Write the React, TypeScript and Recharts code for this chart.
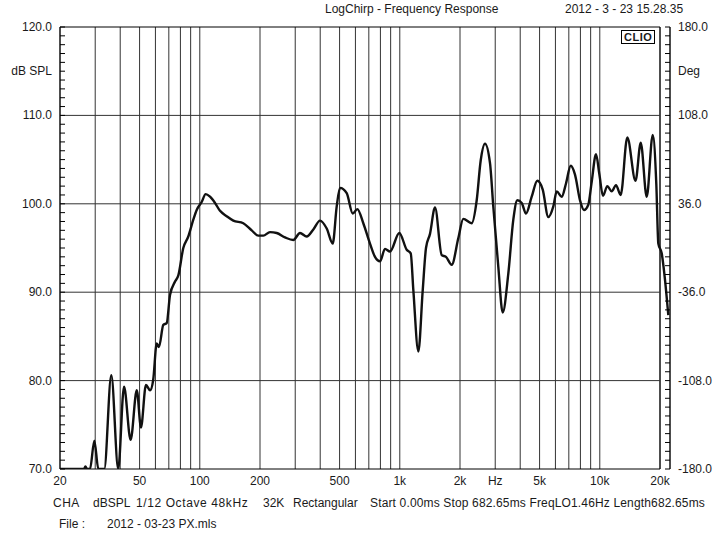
import React from "react";
import {
  LineChart,
  Line,
  XAxis,
  YAxis,
  CartesianGrid,
  ReferenceLine,
  ReferenceArea,
} from "recharts";

// LogChirp frequency response, CLIO style

const FREQS = [
  20, 25.2, 26.4, 26.8, 27.3, 28.25, 29.7, 31.1, 33.3, 36.1, 39.1, 41.8, 45.1,
  48.4, 50.8, 53.8, 56.4, 58.5, 60.9, 62.5, 65.7, 68.3, 71.0, 75.2, 78.1, 82.7,
  87.6, 92.8, 96.5, 102.2, 107.0, 112.5, 119.1, 126.2, 136.3, 147.1, 165.0,
  181.8, 196.1, 207.7, 224.4, 242.4, 266.7, 293.5, 317.0, 342.5, 369.6, 399.1,
  431.1, 461.9, 483.7, 502.4, 542.7, 581.5, 613.1, 657.0, 709.6, 751.7, 796.2,
  843.4, 893.4, 994.3, 1083, 1134, 1169, 1238, 1302, 1352, 1416, 1500, 1620,
  1702, 1818, 1961, 2077, 2288, 2424, 2538, 2667, 2825, 2934, 3108, 3270, 3488,
  3695, 3869, 4070, 4276, 4566, 4870, 5184, 5529, 5856, 6090, 6451, 6777, 7154,
  7517, 7962, 8337, 8761, 9111, 9573, 9943, 10376, 10903, 11469, 12051, 12722,
  13726, 15087, 16020, 17166, 18393, 19171, 19618, 20396, 21186, 22006,
];

const SPL = [
  70.0, 70.0, 70.0, 70.3, 70.0, 70.0, 73.2, 70.0, 70.0, 80.6, 70.0, 79.3, 73.3,
  78.9, 74.7, 79.5, 78.9, 80.1, 84.2, 83.8, 86.3, 86.5, 89.7, 91.2, 91.9, 95.0,
  96.3, 98.2, 99.3, 100.2, 101.1, 100.8, 100.1, 99.2, 98.6, 98.1, 97.8, 97.0,
  96.4, 96.4, 96.8, 96.7, 96.2, 95.9, 96.7, 96.3, 97.1, 98.1, 97.2, 95.5, 99.7,
  101.8, 101.2, 98.9, 99.4, 97.8, 95.5, 94.0, 93.5, 94.9, 94.6, 96.7, 94.8,
  94.4, 90.2, 83.3, 90.2, 95.0, 96.6, 99.6, 94.2, 94.0, 93.1, 96.1, 98.3, 97.8,
  100.4, 104.9, 106.8, 104.6, 99.7, 92.9, 87.7, 92.1, 98.2, 100.4, 100.1, 98.9,
  100.8, 102.6, 101.6, 98.5, 99.7, 101.4, 100.8, 102.3, 104.3, 103.3, 100.4,
  99.3, 99.9, 102.5, 105.6, 103.4, 100.9, 102.0, 101.4, 102.1, 101.0, 107.5,
  102.6, 106.9, 100.8, 107.8, 102.2, 95.5, 94.4, 91.4, 87.4,
];

// vertical grid positions (Hz) and the labels shown under some of them
const GRID_FREQS = [
  20, 30, 40, 50, 60, 70, 80, 90, 100, 200, 300, 400, 500, 600, 700, 800, 900,
  1000, 2000, 3000, 4000, 5000, 6000, 7000, 8000, 9000, 10000, 20000,
];
const FREQ_LABELS: Record<number, string> = {
  20: "20",
  50: "50",
  100: "100",
  200: "200",
  500: "500",
  1000: "1k",
  2000: "2k",
  3000: "Hz",
  5000: "5k",
  10000: "10k",
  20000: "20k",
};

const DB_MAJOR = [70, 80, 90, 100, 110, 120];
const DEG_MAJOR = [-180, -108, -36, 36, 108, 180];

const DB_TICKS = Array.from({ length: 51 }, (_, i) => 70 + i);
const DEG_TICKS = Array.from({ length: 51 }, (_, i) =>
  Number((-180 + i * 7.2).toFixed(1))
);

const data = FREQS.map((f, i) => ({ f, db: SPL[i] }));

const FONT = "'Liberation Sans', Arial, Helvetica, sans-serif";
const INK = "#1a1a1a";

function LeftTick(props: any) {
  const { x, y, payload } = props;
  const v = payload.value as number;
  const major = DB_MAJOR.includes(v);
  return (
    <g>
      <line x1={x} x2={x + 5} y1={y} y2={y} stroke="#000" strokeWidth={1} />
      {major && (
        <text
          x={x - 8}
          y={y}
          textAnchor="end"
          dominantBaseline="central"
          fontSize={12}
          fontFamily={FONT}
          fill={INK}
        >
          {v.toFixed(1)}
        </text>
      )}
    </g>
  );
}

function RightTick(props: any) {
  const { x, y, payload } = props;
  const v = payload.value as number;
  const major = DEG_MAJOR.some((m) => Math.abs(m - v) < 0.01);
  return (
    <g>
      <line x1={x - 5} x2={x} y1={y} y2={y} stroke="#000" strokeWidth={1} />
      {major && (
        <text
          x={x + 8}
          y={y}
          textAnchor="start"
          dominantBaseline="central"
          fontSize={12}
          fontFamily={FONT}
          fill={INK}
        >
          {v.toFixed(1)}
        </text>
      )}
    </g>
  );
}

const txt = (left: number, top: number, extra: React.CSSProperties = {}) =>
  ({
    position: "absolute",
    left,
    top,
    fontSize: 12,
    lineHeight: "14px",
    whiteSpace: "pre",
    color: INK,
    ...extra,
  }) as React.CSSProperties;

export default function App() {
  return (
    <div
      style={{
        position: "absolute",
        left: 0,
        top: 0,
        width: 725,
        height: 536,
        background: "#fff",
        fontFamily: FONT,
      }}
    >
      <LineChart
        width={725}
        height={536}
        data={data}
        margin={{ top: 27, right: 0, bottom: 0, left: 0 }}
      >
        <CartesianGrid
          horizontal={false}
          stroke="#333"
          strokeWidth={1}
          yAxisId="db"
        />
        <XAxis
          dataKey="f"
          type="number"
          scale="log"
          domain={[20, 22440]}
          ticks={GRID_FREQS}
          interval={0}
          height={67}
          axisLine={false}
          tickLine={false}
          tickSize={0}
          tickMargin={7}
          tick={{ fontSize: 12, fill: INK, fontFamily: FONT }}
          tickFormatter={(v: number) => FREQ_LABELS[v] ?? ""}
        />
        <YAxis
          yAxisId="db"
          domain={[70, 120]}
          allowDataOverflow
          ticks={DB_TICKS}
          interval={0}
          width={60}
          axisLine={false}
          tickLine={false}
          tickSize={0}
          tickMargin={0}
          tick={<LeftTick />}
        />
        <YAxis
          yAxisId="deg"
          orientation="right"
          type="number"
          domain={[-180, 180]}
          allowDataOverflow
          ticks={DEG_TICKS}
          interval={0}
          width={55}
          axisLine={{ stroke: "#000", strokeWidth: 1 }}
          tickLine={false}
          tickSize={0}
          tickMargin={0}
          tick={<RightTick />}
        />
        {[80, 90, 100, 110].map((v) => (
          <ReferenceLine
            key={v}
            yAxisId="db"
            segment={[
              { x: 20, y: v },
              { x: 20000, y: v },
            ]}
            stroke="#333"
            strokeWidth={1}
          />
        ))}
        <ReferenceLine yAxisId="deg" y={0} stroke="none" />
        <ReferenceArea
          yAxisId="db"
          x1={20}
          x2={20000}
          y1={70}
          y2={120}
          fill="none"
          fillOpacity={0}
          stroke="#000"
          strokeWidth={1}
        />
        <Line
          yAxisId="db"
          dataKey="db"
          type="monotone"
          stroke="#111"
          strokeWidth={2.4}
          dot={false}
          isAnimationActive={false}
        />
      </LineChart>

      <div style={txt(325, 2)}>LogChirp - Frequency Response</div>
      <div style={txt(565, 2)}>2012 - 3 - 23 15.28.35</div>
      <div style={txt(0, 64, { width: 52, textAlign: "right" })}>dB SPL</div>
      <div style={txt(678, 64)}>Deg</div>
      <div
        style={txt(621, 30, {
          border: "1.5px solid #000",
          fontWeight: "bold",
          fontSize: 11,
          lineHeight: "12px",
          padding: "0 2px",
          letterSpacing: 0.5,
        })}
      >
        CLIO
      </div>

      <div style={txt(53, 496, { letterSpacing: 0.5 })}>CHA</div>
      <div style={txt(93, 496)}>dBSPL</div>
      <div style={txt(136, 496, { letterSpacing: 0.6 })}>1/12 Octave 48kHz</div>
      <div style={txt(263, 496)}>32K</div>
      <div style={txt(293, 496)}>Rectangular</div>
      <div style={txt(370, 496, { letterSpacing: 0.15 })}>
        Start 0.00ms Stop 682.65ms FreqLO1.46Hz Length682.65ms
      </div>
      <div style={txt(59, 517)}>File :</div>
      <div style={txt(107, 517)}>2012 - 03-23 PX.mls</div>
    </div>
  );
}
